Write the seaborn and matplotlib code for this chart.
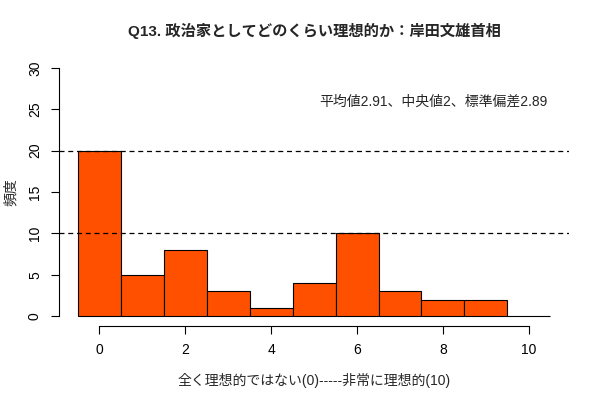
import matplotlib
matplotlib.use('Agg')
import matplotlib.pyplot as plt
import seaborn as sns

# data
scores = [0, 1, 2, 3, 4, 5, 6, 7, 8, 9, 10]
counts = [20, 5, 8, 3, 1, 4, 10, 3, 2, 2, 0]
x_ticks = [0, 2, 4, 6, 8, 10]
y_ticks = [0, 5, 10, 15, 20, 25, 30]
ref_lines = [10, 20]
title = 'Q13. 政治家としてどのくらい理想的か：岸田文雄首相'
stats_text = '平均値2.91、中央値2、標準偏差2.89'
x_label = '全く理想的ではない(0)-----非常に理想的(10)'
y_label = '頻度'

sns.set_style('white')
plt.rcParams['font.family'] = ['Liberation Sans', 'Noto Sans CJK JP', 'DejaVu Sans']

fig = plt.figure(figsize=(6, 4), dpi=100)
ax = fig.add_axes([0.0977, 0.185, 0.8513, 0.67])

sns.histplot(x=scores, weights=counts, discrete=True, color='#FF5000',
             alpha=1, edgecolor='black', linewidth=0.8, ax=ax)

for v in ref_lines:
    ax.axhline(v, color='black', linestyle=(0, (4, 3)), linewidth=0.9)

ax.set_xlim(-0.94, 10.94)
ax.set_ylim(-1.2, 31.2)
ax.set_xticks(x_ticks)
ax.set_yticks(y_ticks)
ax.set_yticklabels([str(t) for t in y_ticks], rotation=90, va='center')
ax.tick_params(axis='both', direction='out', length=6, width=0.8, colors='black',
               labelsize=10, left=True, bottom=True, pad=6)

for s in ['top', 'right']:
    ax.spines[s].set_visible(False)
ax.spines['left'].set_bounds(0, 30)
ax.spines['bottom'].set_bounds(0, 10)
for s in ['left', 'bottom']:
    ax.spines[s].set_color('black')
    ax.spines[s].set_linewidth(0.8)

ax.set_xlabel(x_label, fontsize=10, labelpad=12)
ax.set_ylabel(y_label, fontsize=10, labelpad=7)
ax.set_title(title, fontsize=11, fontweight='bold', pad=16)
ax.text(10.44, 25.9, stats_text, fontsize=10, ha='right', va='center')

fig.savefig('out.png', dpi=100)
